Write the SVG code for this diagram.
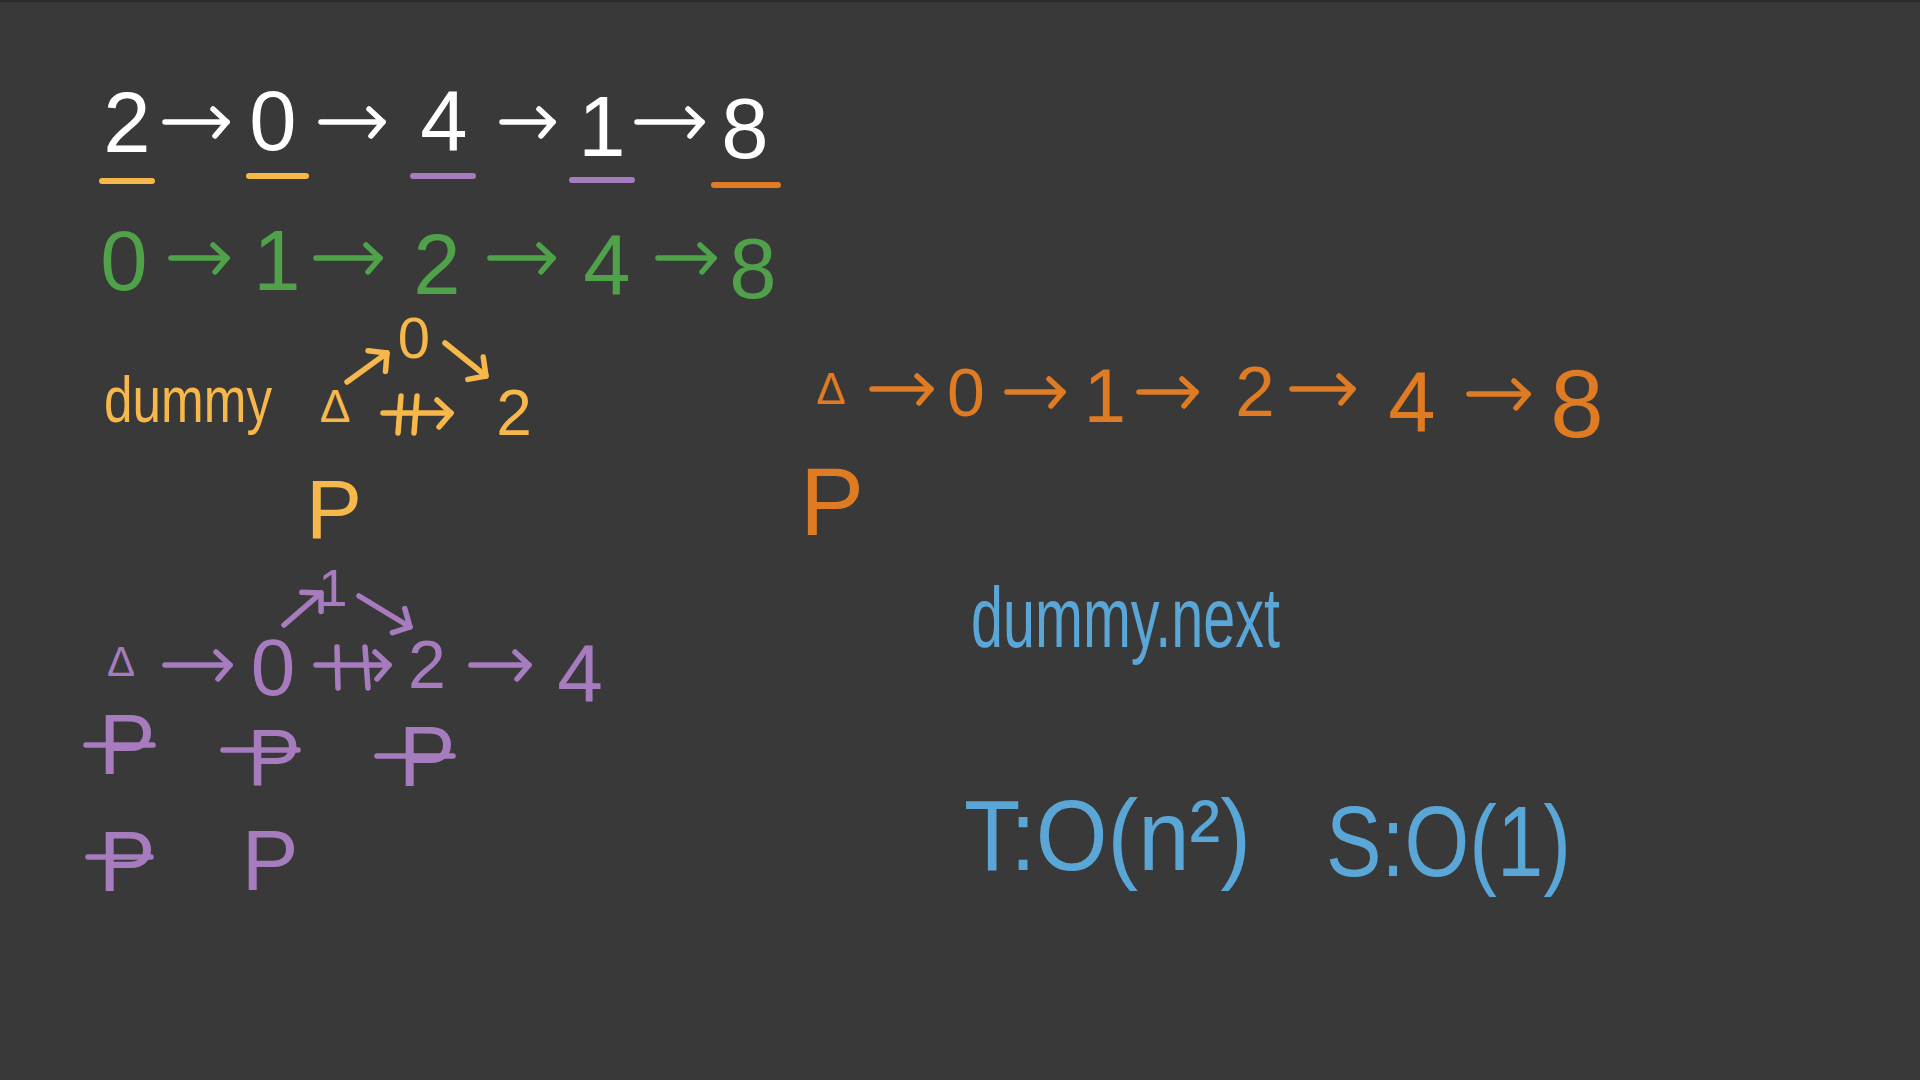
<svg xmlns="http://www.w3.org/2000/svg" width="1920" height="1080" viewBox="0 0 1920 1080">
<style>
text{font-family:"Liberation Sans",Arial,sans-serif;text-anchor:middle}
.st{text-anchor:start}
.w{fill:#ffffff}.g{fill:#4fa24a}.y{fill:#f7b84b}.p{fill:#a67cbf}.o{fill:#df7b22}.b{fill:#5aa6d6}
.ln{fill:none;stroke-width:5.5;stroke-linecap:round;stroke-linejoin:round}
.sw{stroke:#ffffff}.sg{stroke:#4fa24a}.sy{stroke:#f7b84b}.sp{stroke:#a67cbf}.so{stroke:#df7b22}
.ul{stroke-width:6;stroke-linecap:round}
</style>
<defs>
<marker id="aw" markerUnits="userSpaceOnUse" markerWidth="40" markerHeight="40" refX="18" refY="16" orient="auto" overflow="visible"><path d="M4 3 L18 16 L6 30" fill="none" stroke="#ffffff" stroke-width="5.5" stroke-linecap="round" stroke-linejoin="round"/></marker>
<marker id="ag" markerUnits="userSpaceOnUse" markerWidth="40" markerHeight="40" refX="18" refY="16" orient="auto" overflow="visible"><path d="M4 3 L18 16 L6 30" fill="none" stroke="#4fa24a" stroke-width="5.5" stroke-linecap="round" stroke-linejoin="round"/></marker>
<marker id="ay" markerUnits="userSpaceOnUse" markerWidth="40" markerHeight="40" refX="18" refY="16" orient="auto" overflow="visible"><path d="M4 3 L18 16 L6 30" fill="none" stroke="#f7b84b" stroke-width="5.5" stroke-linecap="round" stroke-linejoin="round"/></marker>
<marker id="ap" markerUnits="userSpaceOnUse" markerWidth="40" markerHeight="40" refX="18" refY="16" orient="auto" overflow="visible"><path d="M4 3 L18 16 L6 30" fill="none" stroke="#a67cbf" stroke-width="5.5" stroke-linecap="round" stroke-linejoin="round"/></marker>
<marker id="ao" markerUnits="userSpaceOnUse" markerWidth="40" markerHeight="40" refX="18" refY="16" orient="auto" overflow="visible"><path d="M4 3 L18 16 L6 30" fill="none" stroke="#df7b22" stroke-width="5.5" stroke-linecap="round" stroke-linejoin="round"/></marker>
</defs>
<rect width="1920" height="1080" fill="#393939"/>
<rect width="1920" height="2" fill="#2b2b2b"/>

<g id="list-original" font-size="85" class="w">
<text x="127" y="152">2</text>
<text x="273" y="150">0</text>
<text x="444" y="150">4</text>
<text x="602" y="156">1</text>
<text x="745" y="158">8</text>
</g>
<g id="underlines" class="ul">
<line x1="102" y1="181" x2="152" y2="181" stroke="#f7b84b"/>
<line x1="249" y1="176" x2="306" y2="176" stroke="#f7b84b"/>
<line x1="413" y1="176" x2="473" y2="176" stroke="#a67cbf"/>
<line x1="572" y1="180" x2="632" y2="180" stroke="#a67cbf"/>
<line x1="714" y1="185" x2="778" y2="185" stroke="#df7b22"/>
</g>

<g id="list-sorted" font-size="85" class="g">
<text x="124" y="290">0</text>
<text x="277" y="290">1</text>
<text x="437" y="294">2</text>
<text x="607" y="294">4</text>
<text x="753" y="298">8</text>
</g>

<g id="yellow-step" class="y">
<text class="st" x="104" y="422" font-size="64" textLength="168" lengthAdjust="spacingAndGlyphs">dummy</text>
<text x="335" y="422" font-size="46">Δ</text>
<text x="414" y="358" font-size="58">0</text>
<text x="514" y="435" font-size="64">2</text>
<text x="334" y="538" font-size="84">P</text>
</g>

<g id="purple-step" class="p">
<text x="333" y="606" font-size="52">1</text>
<text x="121" y="676" font-size="42">Δ</text>
<text x="273" y="695" font-size="80">0</text>
<text x="427" y="688" font-size="68">2</text>
<text x="580" y="702" font-size="82">4</text>
</g>
<g id="purple-pointers" class="p">
<text x="127" y="774" font-size="85">P</text>
<text x="274" y="785" font-size="80">P</text>
<text x="427" y="786" font-size="85">P</text>
<text x="127" y="891" font-size="85">P</text>
<text x="270" y="890" font-size="85">P</text>
</g>

<g id="result" class="o">
<text x="831" y="404" font-size="44">Δ</text>
<text x="966" y="416" font-size="68">0</text>
<text x="1105" y="422" font-size="76">1</text>
<text x="1255" y="416" font-size="71">2</text>
<text x="1412" y="431" font-size="85">4</text>
<text x="1577" y="437" font-size="96">8</text>
<text x="832" y="535" font-size="96">P</text>
</g>

<g id="notes" class="b">
<text class="st" x="971" y="647" font-size="85" textLength="309" lengthAdjust="spacingAndGlyphs">dummy.next</text>
<text class="st" x="964" y="870" font-size="100" textLength="287" lengthAdjust="spacingAndGlyphs">T:O(n²)</text>
<text class="st" x="1326" y="876" font-size="100" textLength="245" lengthAdjust="spacingAndGlyphs">S:O(1)</text>
</g>

<g id="connectors" class="ln">
<line class="sw" x1="165" y1="122" x2="227" y2="122" marker-end="url(#aw)"/>
<line class="sw" x1="321" y1="122" x2="383" y2="122" marker-end="url(#aw)"/>
<line class="sw" x1="502" y1="122" x2="553" y2="122" marker-end="url(#aw)"/>
<line class="sw" x1="637" y1="122" x2="702" y2="122" marker-end="url(#aw)"/>

<line class="sg" x1="171" y1="258" x2="227" y2="258" marker-end="url(#ag)"/>
<line class="sg" x1="316" y1="258" x2="380" y2="258" marker-end="url(#ag)"/>
<line class="sg" x1="490" y1="258" x2="553" y2="258" marker-end="url(#ag)"/>
<line class="sg" x1="658" y1="258" x2="714" y2="258" marker-end="url(#ag)"/>

<line class="sy" x1="347" y1="382" x2="387" y2="353" marker-end="url(#ay)"/>
<line class="sy" x1="445" y1="343" x2="486" y2="376" marker-end="url(#ay)"/>
<line class="sy" x1="383" y1="413" x2="451" y2="413" marker-end="url(#ay)"/>
<path class="sy" d="M401 396 L398 433 M417 396 L414 433"/>

<line class="sp" x1="284" y1="625" x2="321" y2="593" marker-end="url(#ap)"/>
<line class="sp" x1="359" y1="596" x2="410" y2="627" marker-end="url(#ap)"/>
<line class="sp" x1="165" y1="665" x2="230" y2="665" marker-end="url(#ap)"/>
<line class="sp" x1="316" y1="665" x2="389" y2="665" marker-end="url(#ap)"/>
<path class="sp" d="M337 647 L338 688 M365 647 L368 688"/>
<line class="sp" x1="471" y1="665" x2="529" y2="665" marker-end="url(#ap)"/>
<path class="sp" d="M86 745 L153 745 M223 750 L298 750 M377 756 L453 756 M88 857 L151 857"/>

<line class="so" x1="872" y1="389" x2="931" y2="389" marker-end="url(#ao)"/>
<line class="so" x1="1007" y1="392" x2="1063" y2="392" marker-end="url(#ao)"/>
<line class="so" x1="1139" y1="392" x2="1196" y2="392" marker-end="url(#ao)"/>
<line class="so" x1="1292" y1="389" x2="1353" y2="389" marker-end="url(#ao)"/>
<line class="so" x1="1469" y1="394" x2="1528" y2="394" marker-end="url(#ao)"/>
</g>
</svg>
